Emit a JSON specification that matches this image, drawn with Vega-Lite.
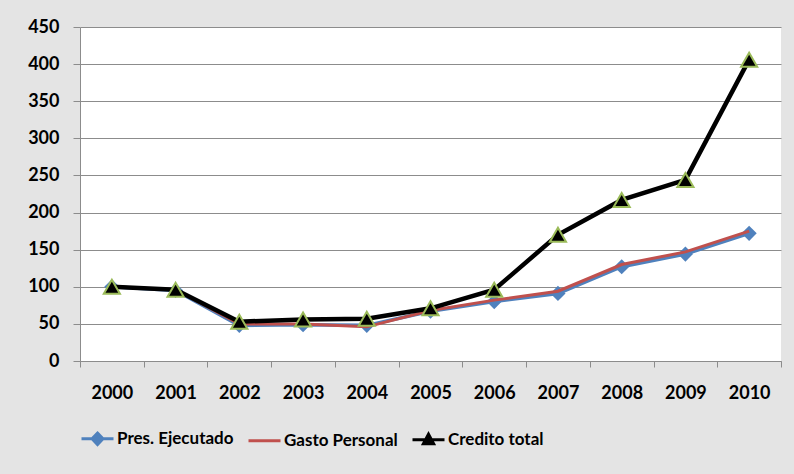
{
  "$schema": "https://vega.github.io/schema/vega-lite/v6.json",
  "width": 701,
  "height": 334,
  "autosize": {"type": "none"},
  "padding": {"left": 80, "top": 27, "right": 13, "bottom": 113},
  "background": "#e4e4e4",
  "config": {
    "view": {"fill": "#ffffff", "stroke": null},
    "font": "Lato"
  },
  "data": {
    "values": [
      {"year": "2000", "series": "Pres. Ejecutado", "value": 100},
      {"year": "2001", "series": "Pres. Ejecutado", "value": 95},
      {"year": "2002", "series": "Pres. Ejecutado", "value": 48},
      {"year": "2003", "series": "Pres. Ejecutado", "value": 49},
      {"year": "2004", "series": "Pres. Ejecutado", "value": 48},
      {"year": "2005", "series": "Pres. Ejecutado", "value": 67},
      {"year": "2006", "series": "Pres. Ejecutado", "value": 80},
      {"year": "2007", "series": "Pres. Ejecutado", "value": 91},
      {"year": "2008", "series": "Pres. Ejecutado", "value": 127},
      {"year": "2009", "series": "Pres. Ejecutado", "value": 144},
      {"year": "2010", "series": "Pres. Ejecutado", "value": 172},
      {"year": "2000", "series": "Gasto Personal", "value": 100},
      {"year": "2001", "series": "Gasto Personal", "value": 96},
      {"year": "2002", "series": "Gasto Personal", "value": 50},
      {"year": "2003", "series": "Gasto Personal", "value": 50},
      {"year": "2004", "series": "Gasto Personal", "value": 46},
      {"year": "2005", "series": "Gasto Personal", "value": 68},
      {"year": "2006", "series": "Gasto Personal", "value": 82},
      {"year": "2007", "series": "Gasto Personal", "value": 94},
      {"year": "2008", "series": "Gasto Personal", "value": 130},
      {"year": "2009", "series": "Gasto Personal", "value": 147},
      {"year": "2010", "series": "Gasto Personal", "value": 175},
      {"year": "2000", "series": "Credito total", "value": 100},
      {"year": "2001", "series": "Credito total", "value": 96},
      {"year": "2002", "series": "Credito total", "value": 53},
      {"year": "2003", "series": "Credito total", "value": 56},
      {"year": "2004", "series": "Credito total", "value": 57},
      {"year": "2005", "series": "Credito total", "value": 71},
      {"year": "2006", "series": "Credito total", "value": 96},
      {"year": "2007", "series": "Credito total", "value": 170},
      {"year": "2008", "series": "Credito total", "value": 217},
      {"year": "2009", "series": "Credito total", "value": 244},
      {"year": "2010", "series": "Credito total", "value": 406}
    ]
  },
  "encoding": {
    "x": {
      "field": "year",
      "type": "ordinal",
      "bandPosition": 0.5,
      "scale": {"type": "band", "paddingInner": 0, "paddingOuter": 0},
      "axis": {
        "title": null,
        "labelAngle": 0,
        "labelFont": "Lato",
        "labelFontWeight": "bold",
        "labelFontSize": 18,
        "labelColor": "#000000",
        "labelPadding": 17,
        "tickBand": "extent",
        "tickColor": "#8c8c8c",
        "tickSize": 6,
        "domainColor": "#8c8c8c",
        "domainWidth": 1,
        "grid": false
      }
    },
    "y": {
      "field": "value",
      "type": "quantitative",
      "scale": {"domain": [0, 450], "nice": false},
      "axis": {
        "title": null,
        "values": [0, 50, 100, 150, 200, 250, 300, 350, 400, 450],
        "labelFont": "Lato",
        "labelFontWeight": "bold",
        "labelFontSize": 18,
        "labelColor": "#000000",
        "labelPadding": 14,
        "tickColor": "#8c8c8c",
        "tickSize": 7,
        "domainColor": "#8c8c8c",
        "gridColor": "#8c8c8c",
        "gridWidth": 1,
        "gridOpacity": 1
      }
    },
    "color": {
      "field": "series",
      "type": "nominal",
      "sort": ["Pres. Ejecutado", "Gasto Personal", "Credito total"],
      "scale": {
        "domain": ["Pres. Ejecutado", "Gasto Personal", "Credito total"],
        "range": ["#4f81bd", "#c0504d", "#000000"]
      },
      "legend": {
        "title": null,
        "orient": "none",
        "direction": "horizontal",
        "legendX": 0,
        "legendY": 394,
        "columnPadding": 8,
        "labelFont": "Lato",
        "labelFontWeight": "bold",
        "labelFontSize": 17,
        "labelColor": "#000000",
        "labelOffset": 2,
        "symbolSize": 1024,
        "symbolStrokeWidth": 3,
        "encode": {
          "symbols": {
            "update": {
              "shape": {"signal": "datum.value === 'Pres. Ejecutado' ? 'M-1,0H1M0,-0.36L0.34,0L0,0.36L-0.34,0Z' : (datum.value === 'Gasto Personal' ? 'M-1,0H1' : 'M-1,0H1M0,-0.34L0.32,0.26L-0.32,0.26Z')"},
              "fill": {"scale": "color", "field": "value"},
              "stroke": {"scale": "color", "field": "value"},
              "strokeWidth": {"value": 3},
              "size": {"value": 1024},
              "opacity": {"value": 1}
            }
          }
        }
      }
    }
  },
  "layer": [
    {
      "transform": [{"filter": "datum.series === 'Pres. Ejecutado'"}],
      "mark": {"type": "line", "strokeWidth": 3.5}
    },
    {
      "transform": [{"filter": "datum.series === 'Pres. Ejecutado'"}],
      "mark": {"type": "point", "shape": "diamond", "filled": true, "size": 230, "opacity": 1}
    },
    {
      "transform": [{"filter": "datum.series === 'Gasto Personal'"}],
      "mark": {"type": "line", "strokeWidth": 3}
    },
    {
      "transform": [{"filter": "datum.series === 'Credito total'"}],
      "mark": {"type": "line", "strokeWidth": 4.5}
    },
    {
      "transform": [{"filter": "datum.series === 'Credito total'"}],
      "mark": {"type": "point", "shape": "triangle-up", "filled": true, "size": 260, "opacity": 1, "stroke": "#9bbb59", "strokeWidth": 2}
    }
  ]
}
